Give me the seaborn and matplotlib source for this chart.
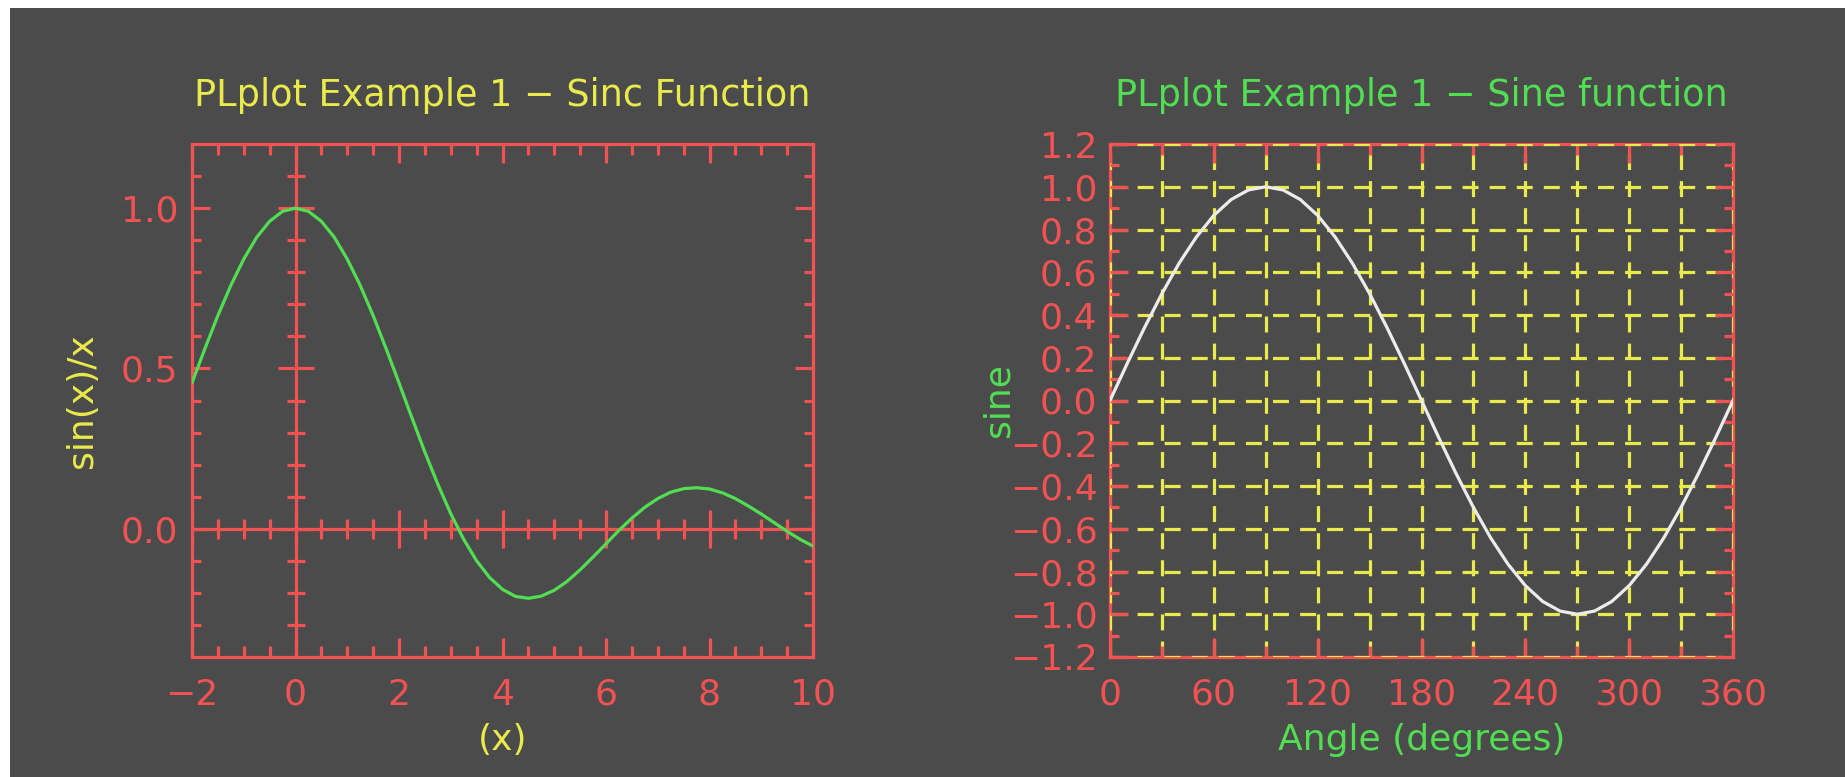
import numpy as np
import pandas as pd
import matplotlib
matplotlib.use("Agg")
import matplotlib.pyplot as plt
import seaborn as sns
from matplotlib.patches import Rectangle
from matplotlib.ticker import FixedLocator

# ---------------- data ----------------
sinc_x = [-2.0, -1.75, -1.5, -1.25, -1.0, -0.75, -0.5, -0.25, 0.0, 0.25, 0.5, 0.75,
          1.0, 1.25, 1.5, 1.75, 2.0, 2.25, 2.5, 2.75, 3.0, 3.25, 3.5, 3.75,
          4.0, 4.25, 4.5, 4.75, 5.0, 5.25, 5.5, 5.75, 6.0, 6.25, 6.5, 6.75,
          7.0, 7.25, 7.5, 7.75, 8.0, 8.25, 8.5, 8.75, 9.0, 9.25, 9.5, 9.75, 10.0]
sinc_y = [0.455, 0.562, 0.665, 0.759, 0.841, 0.909, 0.959, 0.990, 1.000, 0.990, 0.959, 0.909,
          0.841, 0.759, 0.665, 0.562, 0.455, 0.346, 0.239, 0.139, 0.047, -0.033, -0.100, -0.152,
          -0.189, -0.211, -0.217, -0.210, -0.192, -0.164, -0.128, -0.088, -0.047, -0.005, 0.033, 0.067,
          0.094, 0.114, 0.125, 0.128, 0.124, 0.112, 0.094, 0.071, 0.046, 0.019, -0.008, -0.033, -0.054]

sine_deg = [0, 10, 20, 30, 40, 50, 60, 70, 80, 90, 100, 110, 120, 130, 140, 150, 160, 170, 180,
            190, 200, 210, 220, 230, 240, 250, 260, 270, 280, 290, 300, 310, 320, 330, 340, 350, 360]
sine_val = [0.0, 0.174, 0.342, 0.5, 0.643, 0.766, 0.866, 0.940, 0.985, 1.0, 0.985, 0.940, 0.866,
            0.766, 0.643, 0.5, 0.342, 0.174, 0.0, -0.174, -0.342, -0.5, -0.643, -0.766, -0.866,
            -0.940, -0.985, -1.0, -0.985, -0.940, -0.866, -0.766, -0.643, -0.5, -0.342, -0.174, 0.0]

sinc_xticks = [-2, 0, 2, 4, 6, 8, 10]
sinc_xminor = [-1.5, -1, -0.5, 0.5, 1, 1.5, 2.5, 3, 3.5, 4.5, 5, 5.5, 6.5, 7, 7.5, 8.5, 9, 9.5]
sinc_yticks = [0.0, 0.5, 1.0]
sinc_yminor = [-0.3, -0.2, -0.1, 0.1, 0.2, 0.3, 0.4, 0.6, 0.7, 0.8, 0.9, 1.1]

sine_xticks = [0, 60, 120, 180, 240, 300, 360]
sine_xminor = [30, 90, 150, 210, 270, 330]
sine_yticks = [-1.2, -1.0, -0.8, -0.6, -0.4, -0.2, 0.0, 0.2, 0.4, 0.6, 0.8, 1.0, 1.2]
sine_yminor = [-1.1, -0.9, -0.7, -0.5, -0.3, -0.1, 0.1, 0.3, 0.5, 0.7, 0.9, 1.1]

title1 = "PLplot Example 1 \u2212 Sinc Function"
title2 = "PLplot Example 1 \u2212 Sine function"

# ---------------- style ----------------
BG = "#4b4b4b"
RED = "#f25252"
YELLOW = "#eaea4c"
GREEN = "#52de52"
WHITE = "#ececec"
LW = 2.3
FS = 26

sns.set_theme(style="dark")
plt.rcParams["font.family"] = ["DejaVu Sans"]
plt.rcParams["axes.unicode_minus"] = True
plt.rcParams["lines.scale_dashes"] = False

W, H = 1845, 777
fig = plt.figure(figsize=(W / 100, H / 100), dpi=100, facecolor="white")
fig.add_artist(Rectangle((10 / W, 0), 1, 1 - 8 / H, transform=fig.transFigure,
                         facecolor=BG, edgecolor="none", zorder=-10))

ax1 = fig.add_axes([192 / W, 1 - 657 / H, 621 / W, 513 / H])
ax2 = fig.add_axes([1110 / W, 1 - 657 / H, 623 / W, 513 / H])


def style_axes(ax):
    ax.set_facecolor(BG)
    for s in ax.spines.values():
        s.set_color(RED)
        s.set_linewidth(LW)
        s.set_visible(True)
    ax.tick_params(which="both", direction="in", top=True, right=True,
                   bottom=True, left=True, color=RED, width=LW,
                   labelcolor=RED, labelsize=FS)
    ax.tick_params(axis="x", which="major", length=13.5, pad=15)
    ax.tick_params(axis="x", which="minor", length=8)
    ax.tick_params(axis="y", which="major", length=13, pad=10)
    ax.tick_params(axis="y", which="minor", length=6.5)


def fmt(v, nd):
    return f"{v:.{nd}f}".replace("-", "\u2212")


# ---------------- left: sinc ----------------
df1 = pd.DataFrame({"x": sinc_x, "y": sinc_y})
style_axes(ax1)
sns.lineplot(data=df1, x="x", y="y", ax=ax1, color=GREEN, linewidth=LW,
             estimator=None, sort=False, zorder=5)
ax1.set_xlim(-2, 10)
ax1.set_ylim(-0.4, 1.2)
ax1.xaxis.set_major_locator(FixedLocator(sinc_xticks))
ax1.xaxis.set_minor_locator(FixedLocator(sinc_xminor))
ax1.yaxis.set_major_locator(FixedLocator(sinc_yticks))
ax1.yaxis.set_minor_locator(FixedLocator(sinc_yminor))
ax1.set_xticklabels([fmt(v, 0) for v in sinc_xticks])
ax1.set_yticklabels([fmt(v, 1) for v in sinc_yticks])
ax1.axhline(0, color=RED, linewidth=LW, zorder=3)
ax1.axvline(0, color=RED, linewidth=LW, zorder=3)
# crossing ticks on zero axes
ax1.plot(sinc_xticks, [0] * len(sinc_xticks), linestyle="none", marker="|",
         markersize=27, markeredgewidth=LW, color=RED, zorder=3)
ax1.plot(sinc_xminor, [0] * len(sinc_xminor), linestyle="none", marker="|",
         markersize=15, markeredgewidth=LW, color=RED, zorder=3)
ax1.plot([0] * len(sinc_yticks), sinc_yticks, linestyle="none", marker="_",
         markersize=26, markeredgewidth=LW, color=RED, zorder=3)
ax1.plot([0] * len(sinc_yminor), sinc_yminor, linestyle="none", marker="_",
         markersize=13, markeredgewidth=LW, color=RED, zorder=3)
ax1.set_title(title1, color=YELLOW, fontsize=26.4, pad=27)
ax1.set_xlabel("(x)", color=YELLOW, fontsize=FS)
ax1.set_ylabel("sin(x)/x", color=YELLOW, fontsize=FS)
ax1.xaxis.set_label_coords(0.5, -0.128)
ax1.yaxis.set_label_coords(-0.150, 0.5)

# ---------------- right: sine ----------------
df2 = pd.DataFrame({"deg": sine_deg, "val": sine_val})
style_axes(ax2)
ax2.set_xlim(0, 360)
ax2.set_ylim(-1.2, 1.2)
ax2.xaxis.set_major_locator(FixedLocator(sine_xticks))
ax2.xaxis.set_minor_locator(FixedLocator(sine_xminor))
ax2.yaxis.set_major_locator(FixedLocator(sine_yticks))
ax2.yaxis.set_minor_locator(FixedLocator(sine_yminor))
ax2.set_xticklabels([fmt(v, 0) for v in sine_xticks])
ax2.set_yticklabels([fmt(v, 1) for v in sine_yticks])
ax2.tick_params(axis="y", which="major", pad=9)
ax2.set_axisbelow(False)
ax2.grid(True, axis="x", which="both", color=YELLOW, linewidth=LW,
         linestyle=(0, (11.5, 8)))
ax2.grid(True, axis="y", which="major", color=YELLOW, linewidth=LW,
         linestyle=(0, (11.5, 8)))
sns.lineplot(data=df2, x="deg", y="val", ax=ax2, color=WHITE, linewidth=LW,
             estimator=None, sort=False, zorder=5)
ax2.set_title(title2, color=GREEN, fontsize=26.4, pad=27)
ax2.set_xlabel("Angle (degrees)", color=GREEN, fontsize=FS)
ax2.set_ylabel("sine", color=GREEN, fontsize=FS)
ax2.xaxis.set_label_coords(0.5, -0.128)
ax2.yaxis.set_label_coords(-0.151, 0.5)

fig.savefig("out.png", dpi=100, facecolor=fig.get_facecolor())
